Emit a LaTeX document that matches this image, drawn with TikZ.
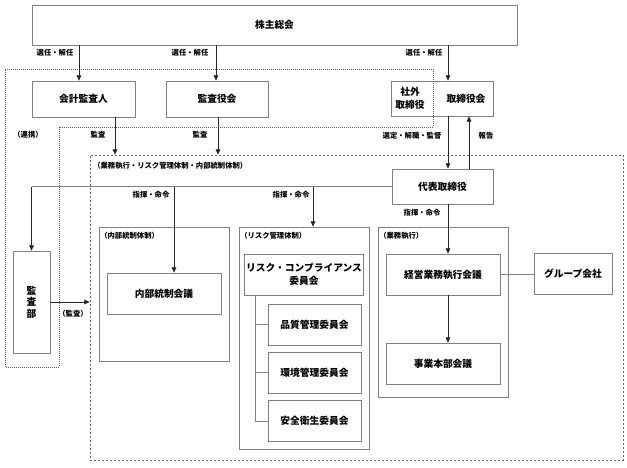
\documentclass[tikz,border=0pt]{standalone}
\usepackage{fontspec}
\setmainfont{Noto Sans CJK JP}
\usetikzlibrary{arrows.meta}
\begin{document}
\begin{tikzpicture}
[x=0.75pt,y=-0.75pt,
sz/.style 2 args={minimum width=#1*0.75pt,minimum height=#2*0.75pt},
box/.style={draw=black!50,line width=0.5pt,inner sep=1pt,align=center,font=\fontsize{7.3}{9.5}\selectfont\bfseries},
frame/.style={draw=black!50,line width=0.5pt,inner sep=0pt},
lab/.style={inner sep=0pt,font=\fontsize{5.5}{7}\selectfont\bfseries},
tag/.style={lab,anchor=west},
arr/.style={draw=black!85,line width=0.6pt,-{Triangle[length=4pt,width=3.5pt]}},
link/.style={draw=black!50,line width=0.6pt}]
\useasboundingbox (0,0) rectangle (627,467);
\node[frame,dash pattern=on 1.5pt off 1.5pt,draw=black!60,sz={533}{305}] (shikko) at (356.5,307.5) {};
\node[tag] (t1) at (93,166) {（業務執行・リスク管理体制・内部統制体制）};
\node[box,sz={485}{40}] (soukai) at (274.5,25) {株主総会};
\node[box,sz={103}{36}] (kaikei) at (83.5,99) {会計監査人};
\node[box,sz={102}{36}] (kansayaku) at (217,99) {監査役会};
\node[box,sz={102}{35}] (torishimari) at (442,98.5) {};
\node[box,draw=none] (shagai) at (410,98.5) {社外\\取締役};
\node[box,draw=none] (torikai) at (466,98.5) {取締役会};
\draw[densely dotted,black!60,line width=0.5pt] (5,69) -- (433,69) -- (433,127) -- (59,127) -- (59,367) -- (5,367) -- cycle;
\node[box,sz={101}{35}] (daihyo) at (442.5,186.5) {代表取締役};
\node[box,sz={37}{102},font=\fontsize{7.3}{8.6}\selectfont\bfseries] (kansabu) at (31.5,302) {監\\査\\部};
\node[frame,sz={130}{134}] (naibutaisei) at (164,294) {};
\node[tag] (t2) at (100,236) {（内部統制体制）};
\node[box,sz={114}{41}] (naibukaigi) at (164,293.5) {内部統制会議};
\node[frame,sz={130}{222}] (risktaisei) at (304,338) {};
\node[tag] (t3) at (240,236) {（リスク管理体制）};
\node[box,sz={114}{41}] (riskcomp) at (304,274.5) {リスク・コンプライアンス\\委員会};
\node[box,sz={93}{41}] (hinshitsu) at (314.5,324.5) {品質管理委員会};
\node[box,sz={93}{41}] (kankyo) at (314.5,372.5) {環境管理委員会};
\node[box,sz={93}{41}] (anzen) at (314.5,421) {安全衛生委員会};
\node[frame,sz={130}{170}] (gyomu) at (443,312) {};
\node[tag] (t4) at (379,236) {（業務執行）};
\node[box,sz={114}{41}] (keiei) at (443,274.5) {経営業務執行会議};
\node[box,sz={114}{41}] (jigyo) at (443,363.5) {事業本部会議};
\node[box,sz={78}{41}] (group) at (573,273.5) {グループ会社};
\node[lab] (sen1) at (55,53) {選任・解任};
\node[lab] (sen2) at (190,53) {選任・解任};
\node[lab] (sen3) at (424,53) {選任・解任};
\node[lab] (renkei) at (28,135) {（連携）};
\node[lab] (kansa1) at (98,135) {監査};
\node[lab] (kansa2) at (200,135) {監査};
\node[lab] (sentei) at (412,136) {選定・解職・監督};
\node[lab] (hokoku) at (486,136) {報告};
\node[lab] (shiki1) at (151,195) {指揮・命令};
\node[lab] (shiki2) at (291,195) {指揮・命令};
\node[lab] (shiki3) at (422,213) {指揮・命令};
\node[lab] (kansa3) at (73,314) {（監査）};
\coordinate (ka) at (79,0);
\coordinate (kb) at (216,0);
\coordinate (kc) at (448,0);
\coordinate (kd) at (115,0);
\coordinate (ke) at (218,0);
\coordinate (kf) at (469,0);
\coordinate (kg) at (174,0);
\coordinate (kh) at (313,0);
\coordinate (ki) at (255,0);
\draw[arr] (soukai.south -| ka) -- (kaikei.north -| ka);
\draw[arr] (soukai.south -| kb) -- (kansayaku.north -| kb);
\draw[arr] (soukai.south -| kc) -- (torishimari.north -| kc);
\draw[arr] (kaikei.south -| kd) -- (shikko.north -| kd);
\draw[arr] (kansayaku.south -| ke) -- (shikko.north -| ke);
\draw[arr] (torishimari.south -| kc) -- (daihyo.north -| kc);
\draw[arr] (daihyo.north -| kf) -- (torishimari.south -| kf);
\draw[link] (daihyo.west) -- (daihyo.west -| kansabu.north);
\draw[arr] (daihyo.west -| kansabu.north) -- (kansabu.north);
\draw[arr] (daihyo.west -| kg) -- (naibukaigi.north -| kg);
\draw[arr] (daihyo.west -| kh) -- (risktaisei.north -| kh);
\draw[arr] (daihyo.south -| kc) -- (keiei.north -| kc);
\draw[arr] (keiei.south -| kc) -- (jigyo.north -| kc);
\draw[link] (keiei.east) -- (keiei.east -| group.west);
\draw[arr] (kansabu.east) -- (kansabu.east -| shikko.west);
\draw[link] (riskcomp.south -| ki) |- (anzen.west);
\draw[link] (ki |- hinshitsu.west) -- (hinshitsu.west);
\draw[link] (ki |- kankyo.west) -- (kankyo.west);
\end{tikzpicture}
\end{document}
